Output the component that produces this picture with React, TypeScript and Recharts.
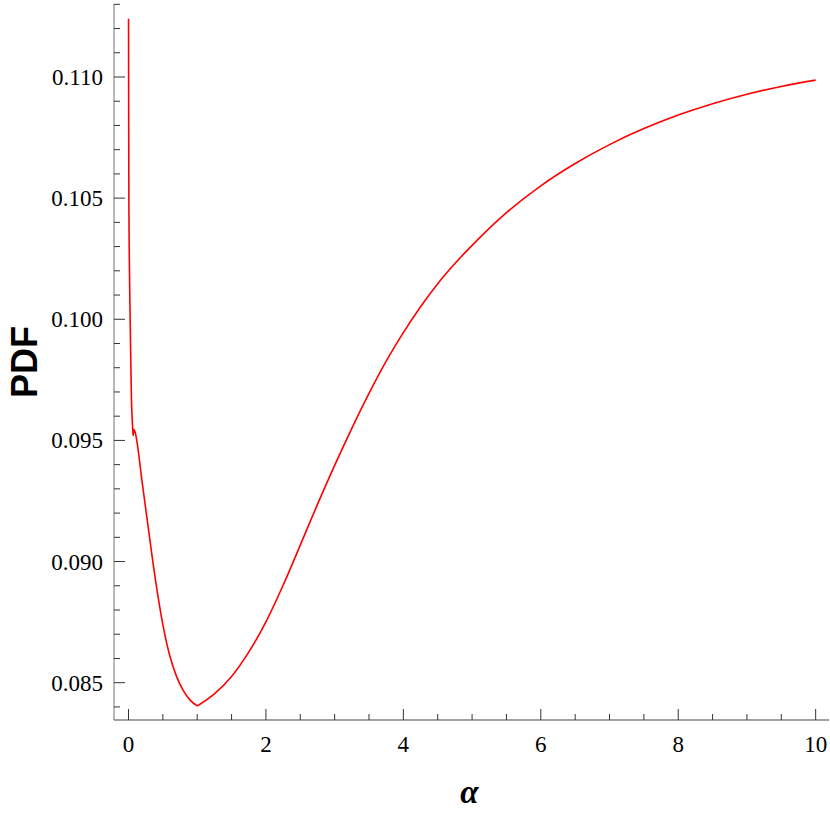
import React from 'react';
import { LineChart, Line, XAxis, YAxis } from 'recharts';

// alpha values (x) shared by both branches of the curve
const alphaValues = [
  0.0005, 0.003, 0.006, 0.012, 0.02, 0.03, 0.043, 0.055, 0.065, 0.068, 0.078, 0.092,
  0.1, 0.2, 0.3, 0.4, 0.5, 0.6, 0.7, 0.8, 0.9, 1.0,
  1.25, 1.5, 1.75, 2.0, 2.25, 2.5, 2.75, 3.0, 3.25, 3.5, 3.75, 4.0, 4.25, 4.5, 4.75, 5.0,
  5.5, 6.0, 6.5, 7.0, 7.5, 8.0, 8.5, 9.0, 9.5, 10.0,
];
// PDF values on the falling branch (alpha <= 1)
const pdfFalling = [
  0.1124, 0.108, 0.1045, 0.1025, 0.1008, 0.0989, 0.0967, 0.0958, 0.0953, 0.0952, 0.09545, 0.09538,
  0.0953, 0.09325, 0.09113, 0.0891, 0.0874, 0.08612, 0.08525, 0.08466, 0.08427, 0.08404,
];
// PDF values on the rising branch (alpha >= 1)
const pdfRising = [
  0.08404, 0.08454, 0.08526, 0.08626, 0.08751, 0.08902, 0.09068, 0.09236, 0.09397, 0.0955, 0.09694,
  0.09827, 0.09945, 0.10052, 0.10147, 0.1023, 0.10305, 0.1044, 0.10551, 0.10643, 0.10721, 0.10787,
  0.10843, 0.1089, 0.10929, 0.10961, 0.10987,
];

const xTicks = [0, 0.5, 1, 1.5, 2, 2.5, 3, 3.5, 4, 4.5, 5, 5.5, 6, 6.5, 7, 7.5, 8, 8.5, 9, 9.5, 10];
const xMajor = [0, 2, 4, 6, 8, 10];
const yTicks = [
  0.084, 0.085, 0.086, 0.087, 0.088, 0.089, 0.09, 0.091, 0.092, 0.093, 0.094, 0.095,
  0.096, 0.097, 0.098, 0.099, 0.1, 0.101, 0.102, 0.103, 0.104, 0.105, 0.106, 0.107,
  0.108, 0.109, 0.11, 0.111, 0.112, 0.113,
];
const yMajor = [0.085, 0.09, 0.095, 0.1, 0.105, 0.11];

const nFall = pdfFalling.length;
const data = alphaValues.map((a, i) => ({
  alpha: a,
  fall: i < nFall ? pdfFalling[i] : null,
  rise: i >= nFall - 1 ? pdfRising[i - (nFall - 1)] : null,
}));

const X_DOMAIN: [number, number] = [-0.211, 10.194];
const Y_DOMAIN: [number, number] = [0.08346, 0.113013];

const isXMajor = (v: number) => xMajor.some((m) => Math.abs(m - v) < 1e-9);
const isYMajor = (v: number) => yMajor.some((m) => Math.abs(m - v) < 1e-9);

const serif = "'Liberation Serif', 'Times New Roman', Times, serif";
const tickColor = '#333';
const MAJ = 11;
const MIN = 6;

const BottomTick = (props: any) => {
  const { x, y, payload } = props;
  const v = payload.value;
  const major = isXMajor(v);
  return (
    <g>
      <line x1={x} x2={x} y1={y} y2={y - (major ? MAJ : MIN)} stroke={tickColor} strokeWidth={1} />
      {major && (
        <text x={x} y={y + 32} textAnchor="middle" style={{ fontFamily: serif, fontSize: 23 }} fill="#000">
          {String(v)}
        </text>
      )}
    </g>
  );
};

const TopTick = (props: any) => {
  const { x, y, payload } = props;
  const major = isXMajor(payload.value);
  return <line x1={x} x2={x} y1={y} y2={y + (major ? MAJ : MIN)} stroke={tickColor} strokeWidth={1} />;
};

const LeftTick = (props: any) => {
  const { x, y, payload } = props;
  const v = payload.value;
  const major = isYMajor(v);
  return (
    <g>
      <line x1={x} x2={x + (major ? MAJ : MIN)} y1={y} y2={y} stroke={tickColor} strokeWidth={1} />
      {major && (
        <text x={x - 11} y={y + 8} textAnchor="end" style={{ fontFamily: serif, fontSize: 23 }} fill="#000">
          {v.toFixed(3)}
        </text>
      )}
    </g>
  );
};

const RightTick = (props: any) => {
  const { x, y, payload } = props;
  const major = isYMajor(payload.value);
  return <line x1={x} x2={x - (major ? MAJ : MIN)} y1={y} y2={y} stroke={tickColor} strokeWidth={1} />;
};

const XLabel = (props: any) => {
  const vb = props.viewBox || { x: 114, y: 720, width: 715, height: 93 };
  return (
    <text
      x={vb.x + vb.width / 2 - 2}
      y={vb.y + 83}
      textAnchor="middle"
      style={{ fontFamily: serif, fontStyle: 'italic', fontWeight: 'bold', fontSize: 33 }}
      fill="#000"
    >
      α
    </text>
  );
};

const YLabel = (props: any) => {
  const vb = props.viewBox || { x: 0, y: 4, width: 114, height: 716 };
  const cx = vb.x + 37;
  const cy = vb.y + vb.height / 2;
  return (
    <text
      x={cx}
      y={cy}
      transform={`rotate(-90, ${cx}, ${cy})`}
      textAnchor="middle"
      style={{ fontFamily: "'Liberation Sans', Arial, sans-serif", fontWeight: 'bold', fontSize: 36 }}
      fill="#000"
    >
      PDF
    </text>
  );
};

export default function App() {
  return (
    <div style={{ position: 'absolute', left: 0, top: 0, width: 830, height: 813, background: '#fff' }}>
      <LineChart width={830} height={813} data={data} margin={{ top: 4, right: 1, left: 0, bottom: 0 }}>
        <XAxis
          xAxisId="b"
          dataKey="alpha"
          type="number"
          orientation="bottom"
          domain={X_DOMAIN}
          allowDataOverflow
          ticks={xTicks}
          interval={0}
          tickSize={0}
          tickMargin={0}
          tickLine={false}
          tick={BottomTick}
          axisLine={{ stroke: '#444', strokeWidth: 1.2 }}
          height={93}
          label={<XLabel />}
        />
        <XAxis
          xAxisId="t"
          dataKey="alpha"
          type="number"
          orientation="top"
          domain={X_DOMAIN}
          allowDataOverflow
          ticks={xTicks}
          interval={0}
          tickSize={0}
          tickMargin={0}
          tickLine={false}
          tick={TopTick}
          axisLine={{ stroke: '#888', strokeWidth: 1.2 }}
          height={0}
        />
        <YAxis
          yAxisId="l"
          type="number"
          orientation="left"
          domain={Y_DOMAIN}
          allowDataOverflow
          ticks={yTicks}
          interval={0}
          tickSize={0}
          tickMargin={0}
          tickLine={false}
          tick={LeftTick}
          axisLine={{ stroke: '#888', strokeWidth: 1.2 }}
          width={114}
          label={<YLabel />}
        />
        <YAxis
          yAxisId="r"
          type="number"
          orientation="right"
          domain={Y_DOMAIN}
          allowDataOverflow
          ticks={yTicks}
          interval={0}
          tickSize={0}
          tickMargin={0}
          tickLine={false}
          tick={RightTick}
          axisLine={{ stroke: '#888', strokeWidth: 1.2 }}
          width={0}
        />
        <Line
          xAxisId="b"
          yAxisId="l"
          type="monotone"
          dataKey="fall"
          stroke="#ff0000"
          strokeWidth={1.6}
          dot={false}
          connectNulls={false}
          isAnimationActive={false}
        />
        <Line
          xAxisId="b"
          yAxisId="l"
          type="monotone"
          dataKey="rise"
          stroke="#ff0000"
          strokeWidth={1.6}
          dot={false}
          connectNulls={false}
          isAnimationActive={false}
        />
      </LineChart>
    </div>
  );
}
